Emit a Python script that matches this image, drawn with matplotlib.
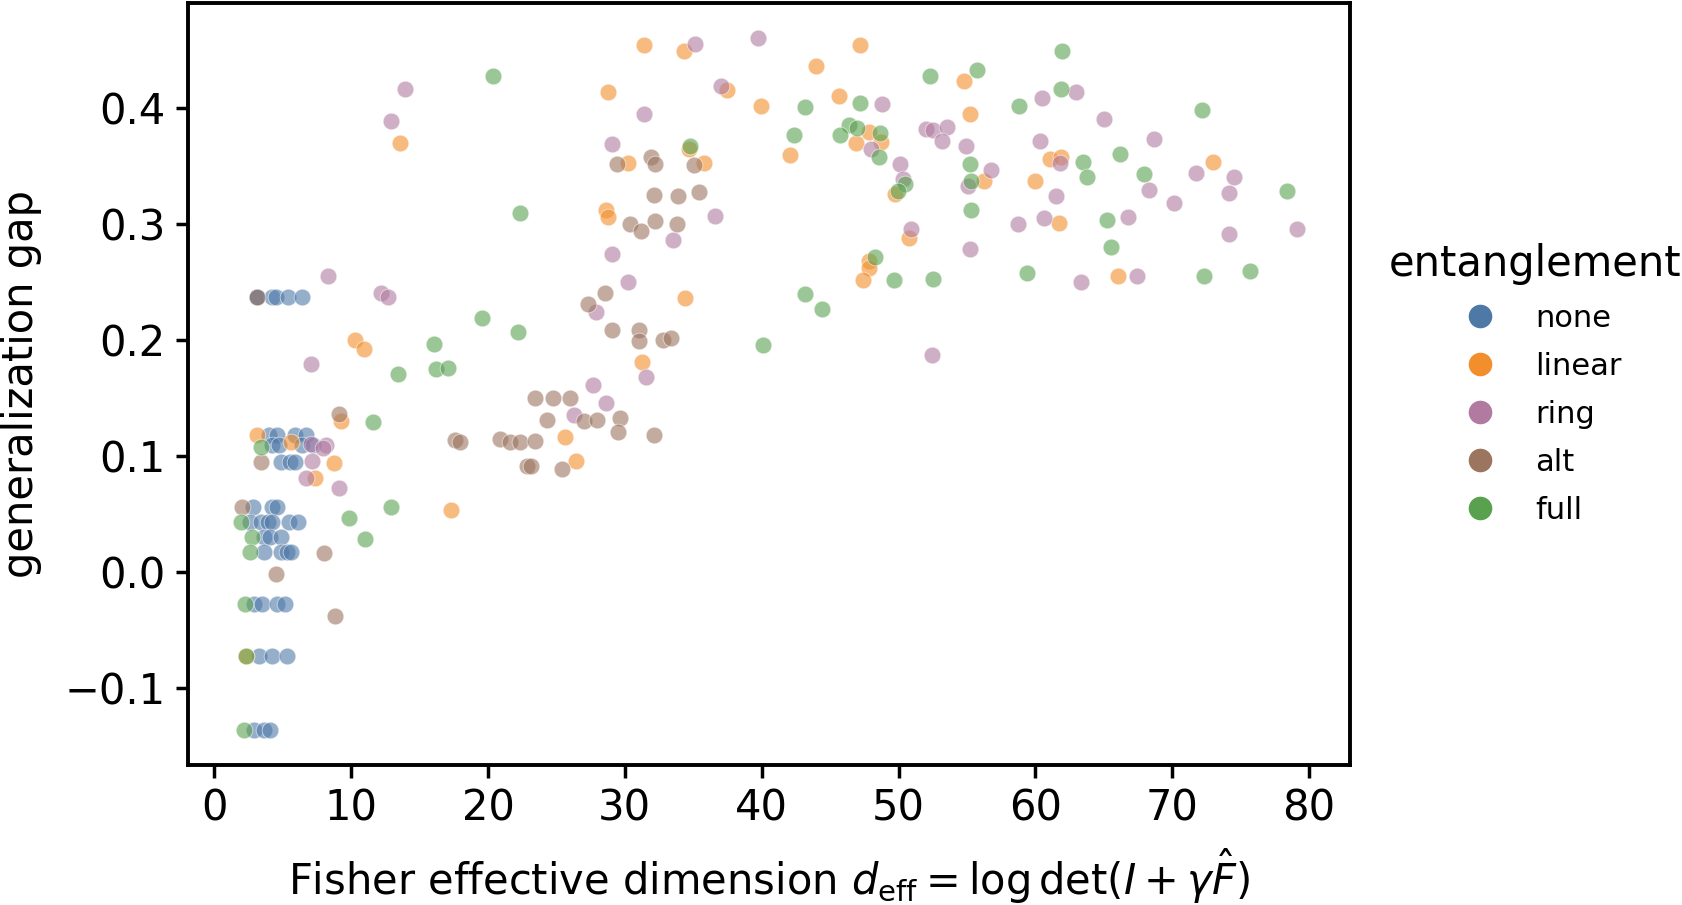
import numpy as np
import matplotlib
matplotlib.use("Agg")
from matplotlib import pyplot as plt
from matplotlib.lines import Line2D

categories = ["none", "linear", "ring", "alt", "full"]
colors = ["#4e79a7", "#f28e2b", "#b07aa1", "#9c755f", "#59a14f"]

# values, one pair of lists per entanglement type
none_x = [3.1, 3.1, 4.2, 4.5, 5.4, 6.4,
          4.0, 4.6, 5.9, 6.7,
          4.2, 4.7, 6.4, 7.2,
          4.9, 5.5, 5.9,
          2.8, 4.2, 4.6,
          2.6, 3.4, 3.9, 4.2, 5.45, 6.1,
          3.6, 4.1, 4.85,
          3.6, 4.9, 5.3, 5.6,
          2.9, 3.5, 4.6, 5.2,
          3.3, 4.2, 5.3,
          2.9, 3.6, 4.1]
none_y = [0.237, 0.237, 0.237, 0.237, 0.237, 0.237,
          0.118, 0.118, 0.118, 0.118,
          0.109, 0.109, 0.109, 0.109,
          0.095, 0.095, 0.095,
          0.056, 0.056, 0.056,
          0.043, 0.043, 0.043, 0.043, 0.043, 0.043,
          0.030, 0.030, 0.030,
          0.017, 0.017, 0.017, 0.017,
          -0.028, -0.028, -0.028, -0.028,
          -0.073, -0.073, -0.073,
          -0.137, -0.137, -0.137]

linear_x = [3.14, 5.6, 8.74, 7.35, 9.25, 10.25, 10.95, 13.6, 17.33, 2.3,
            25.65, 26.4, 28.77, 28.6, 28.8, 30.25, 31.4, 34.3, 34.68, 35.8,
            37.5, 31.27, 34.4, 39.93, 43.97, 42.1, 45.67, 47.16, 46.9, 47.86,
            48.7, 49.74, 50.73, 47.86, 47.86, 47.38, 54.75, 55.19, 56.25, 59.98,
            61.1, 61.9, 61.73, 66.0, 72.95]
linear_y = [0.118, 0.112, 0.094, 0.081, 0.130, 0.200, 0.192, 0.370, 0.053, -0.073,
            0.116, 0.096, 0.414, 0.312, 0.306, 0.353, 0.455, 0.450, 0.365, 0.353,
            0.416, 0.181, 0.236, 0.402, 0.437, 0.360, 0.411, 0.455, 0.370, 0.380,
            0.371, 0.326, 0.288, 0.268, 0.262, 0.252, 0.424, 0.395, 0.337, 0.337,
            0.356, 0.358, 0.301, 0.255, 0.354]

ring_x = [8.33, 12.2, 12.66, 7.06, 7.1, 8.13, 7.93, 7.11, 6.74, 9.15, 12.93, 13.97,
          35.1, 37.04, 31.4, 29.03, 36.6, 33.55, 29.06, 30.25, 27.9, 31.56, 27.7, 28.64, 26.25,
          39.7, 48.79, 48.0, 52.0, 52.5, 53.55, 53.2, 54.9, 60.5, 60.3, 50.1, 50.34, 56.74,
          55.1, 60.6, 58.7, 50.9, 55.2, 52.46,
          62.95, 65.0, 68.64, 61.83, 71.76, 74.5, 74.14, 61.5, 68.3, 70.1, 66.77, 74.14,
          79.13, 63.3, 67.45]
ring_y = [0.255, 0.241, 0.237, 0.179, 0.110, 0.109, 0.107, 0.096, 0.081, 0.072, 0.389, 0.417,
          0.456, 0.419, 0.395, 0.369, 0.307, 0.286, 0.274, 0.250, 0.224, 0.168, 0.161, 0.146, 0.135,
          0.461, 0.404, 0.365, 0.382, 0.381, 0.384, 0.372, 0.368, 0.409, 0.372, 0.352, 0.339, 0.347,
          0.333, 0.305, 0.300, 0.296, 0.279, 0.187,
          0.414, 0.391, 0.374, 0.353, 0.344, 0.341, 0.327, 0.324, 0.330, 0.318, 0.306, 0.292,
          0.296, 0.250, 0.255]

alt_x = [3.1, 2.05, 3.39, 9.15, 7.99, 4.5, 8.79,
         17.57, 17.99, 20.9, 21.6, 22.36, 23.44, 22.85, 23.17, 25.4, 23.46, 24.75, 26.0,
         24.33, 26.99, 28.0, 29.66, 29.5, 32.15,
         27.3, 28.55, 29.06, 31.03, 31.07, 32.8, 33.4,
         29.4, 31.9, 32.17, 35.04, 32.15, 33.85, 35.4, 30.4, 31.2, 32.2, 33.8]
alt_y = [0.237, 0.056, 0.095, 0.136, 0.016, -0.002, -0.038,
         0.114, 0.112, 0.115, 0.112, 0.112, 0.113, 0.091, 0.091, 0.089, 0.150, 0.150, 0.150,
         0.131, 0.130, 0.131, 0.133, 0.121, 0.118,
         0.231, 0.241, 0.209, 0.209, 0.199, 0.200, 0.202,
         0.352, 0.358, 0.352, 0.351, 0.325, 0.324, 0.328, 0.300, 0.294, 0.303, 0.300]

full_x = [16.04, 16.2, 17.06, 13.44, 11.63, 3.39, 1.93, 2.78, 2.58, 2.24, 2.29, 2.17,
          12.88, 9.83, 11.05, 20.34, 22.36, 19.6, 22.17, 34.77,
          43.17, 47.2, 52.27, 55.74, 58.8, 42.36, 46.4, 46.94, 45.72, 48.64, 48.57, 50.44,
          49.98, 55.19, 55.26, 55.3, 48.3, 49.66, 52.5, 59.4, 43.17, 44.38, 40.08,
          61.95, 61.85, 72.2, 63.5, 63.77, 66.2, 67.9, 78.37, 65.2, 65.5, 72.3, 75.65]
full_y = [0.197, 0.175, 0.176, 0.171, 0.129, 0.108, 0.043, 0.030, 0.017, -0.028, -0.073, -0.137,
          0.056, 0.046, 0.028, 0.428, 0.310, 0.219, 0.207, 0.368,
          0.401, 0.405, 0.428, 0.433, 0.402, 0.377, 0.386, 0.383, 0.377, 0.379, 0.358, 0.335,
          0.329, 0.352, 0.337, 0.312, 0.272, 0.252, 0.253, 0.258, 0.240, 0.227, 0.196,
          0.450, 0.417, 0.399, 0.354, 0.341, 0.361, 0.343, 0.329, 0.304, 0.280, 0.255, 0.260]

xs = [none_x, linear_x, ring_x, alt_x, full_x]
ys = [none_y, linear_y, ring_y, alt_y, full_y]

plt.rcParams["font.family"] = "DejaVu Sans"

fig = plt.figure(figsize=(1683 / 200, 905 / 200), dpi=200)
ax = fig.add_axes([0.1116, 0.1547, 0.6906, 0.8418])

for name, c, x, y in zip(categories, colors, xs, ys):
    ax.scatter(np.array(x), np.array(y), s=36, color=c, alpha=0.6,
               edgecolor="white", linewidth=0.3, label=name)

ax.set_xlabel(r"Fisher effective dimension $d_{\rm eff} = \log\det(I + \gamma\hat{F})$",
              fontsize=15, labelpad=6.5)
ax.set_ylabel("generalization gap", fontsize=15, labelpad=8)
ax.set_xticks([0, 10, 20, 30, 40, 50, 60, 70, 80])
ax.set_yticks([-0.1, 0.0, 0.1, 0.2, 0.3, 0.4])
ax.tick_params(labelsize=15, width=1.25, length=4.5)
for sp in ax.spines.values():
    sp.set_linewidth(1.4)

handles = [Line2D([], [], marker="o", linestyle="", markersize=8.5, color=c,
                  markeredgewidth=0) for c in colors]
leg = ax.legend(handles, categories, title="entanglement", loc="center left",
                bbox_to_anchor=(1.01, 0.5), frameon=False, fontsize=11,
                title_fontsize=15, labelspacing=0.62)

fig.savefig("out.png", dpi=200)
